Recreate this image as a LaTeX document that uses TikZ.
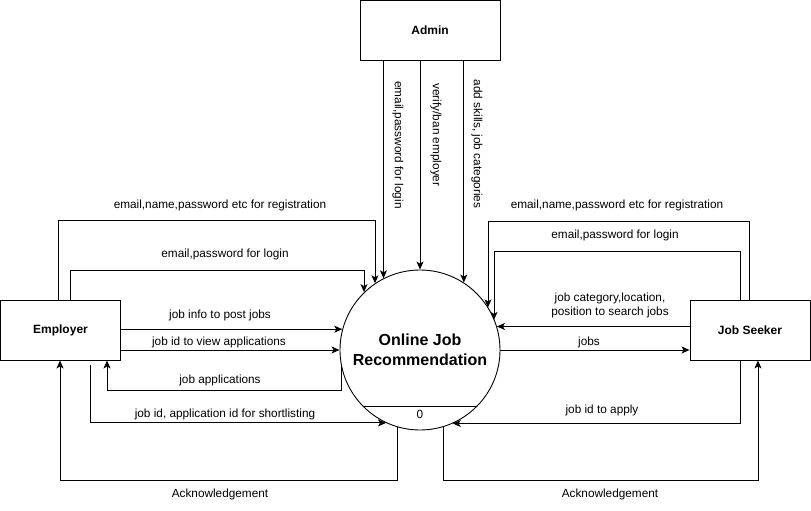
\documentclass[tikz,border=0pt]{standalone}
\usepackage{fontspec}
\setmainfont{Liberation Sans}
\usetikzlibrary{arrows.meta}
\begin{document}
\begin{tikzpicture}[x=1pt,y=-1pt,
  arr/.style={draw=black,line width=0.9pt,-{Stealth[length=8pt,width=7pt,inset=2pt]}},
  box/.style={draw=black,line width=0.9pt,fill=white,minimum width=120pt,minimum height=60pt,inner sep=0pt,font=\fontsize{12}{14}\selectfont\bfseries},
  lbl/.style={font=\fontsize{11.8}{14}\selectfont,inner sep=0pt,align=center},
  vlbl/.style={lbl,rotate=-90}]
\useasboundingbox (0,0) rectangle (811,511);
\fill[white] (0,0) rectangle (811,511);
% nodes
\node[box] (emp) at (60.5,330) {Employer};
\node[box] (seeker) at (750,330) {Job Seeker};
\node[box,minimum width=140pt] (admin) at (430,30.5) {Admin};
\node[draw=black,line width=0.9pt,circle,minimum size=160pt,inner sep=0pt] (proc) at (420,350) {};
\node[font=\fontsize{16}{20}\selectfont\bfseries,align=center,inner sep=0pt] (ptitle) at (420,350) {Online Job\\Recommendation};
\draw[line width=0.9pt] (proc.225) -- (proc.-45);
\node[lbl] (pid) at (420,414) {0};
% bend points
\coordinate (er) at (375,220);
\coordinate (el) at (364,270);
\coordinate (ja) at (107,390);
\coordinate (ea) at (60,480);
\coordinate (sr) at (488,221);
\coordinate (sl) at (494,251);
\coordinate (sa) at (758,480);
% Employer connectors
\draw[arr] ([xshift=58pt]emp.north west) |- (er) -- (er |- proc.124);
\node[lbl] (l1) at (220,205) {email,name,password etc for registration};
\draw[arr] ([xshift=70pt]emp.north west) |- (el) -- (el |- proc.134);
\node[lbl] (l2) at (225,254) {email,password for login};
\draw[arr] (proc.165 -| emp.east) -- (proc.165);
\node[lbl] (l3) at (220,315) {job info to post jobs};
\draw[arr] (proc.west -| emp.east) -- (proc.west);
\node[lbl] (l4) at (219,342) {job id to view applications};
\draw[arr] (proc.191) |- (ja) -- (ja |- emp.south);
\node[lbl] (l5) at (220,380) {job applications};
\draw[arr] ([shift={(90pt,-5pt)}]emp.south west) |- (proc.245);
\node[lbl] (l6) at (225,414) {job id, application id for shortlisting};
\draw[arr] (proc.254) |- (ea) -- (ea |- emp.south);
\node[lbl] (l7) at (220,494) {Acknowledgement};
% Job Seeker connectors
\draw[arr] ([xshift=60pt]seeker.north west) |- (sr) -- (sr |- proc.32);
\node[lbl] (l8) at (617,205) {email,name,password etc for registration};
\draw[arr] ([xshift=51pt]seeker.north west) |- (sl) -- (sl |- proc.22);
\node[lbl] (l9) at (615,235) {email,password for login};
\draw[arr] (proc.17 -| seeker.west) -- (proc.17);
\node[lbl] (l10) at (610,305.5) {job category,location,\\position to search jobs};
\draw[arr] (proc.east) -- (proc.east -| seeker.west);
\node[lbl] (l11) at (589,342) {jobs};
\draw[arr] ([xshift=51pt]seeker.south west) |- (proc.-66);
\node[lbl] (l12) at (602,410) {job id to apply};
\draw[arr] (proc.-73) |- (sa) -- (sa |- seeker.south);
\node[lbl] (l13) at (610,494) {Acknowledgement};
% Admin connectors
\draw[arr] (proc.117 |- admin.south) -- (proc.117);
\node[vlbl] (l14) at (398,145) {email,password for login};
\draw[arr] (proc.north |- admin.south) -- (proc.north);
\node[vlbl] (l15) at (436,135) {verify/ban employer};
\draw[arr] (proc.57 |- admin.south) -- (proc.57);
\node[vlbl] (l16) at (477,144) {add skills, job categories};
\end{tikzpicture}
\end{document}
